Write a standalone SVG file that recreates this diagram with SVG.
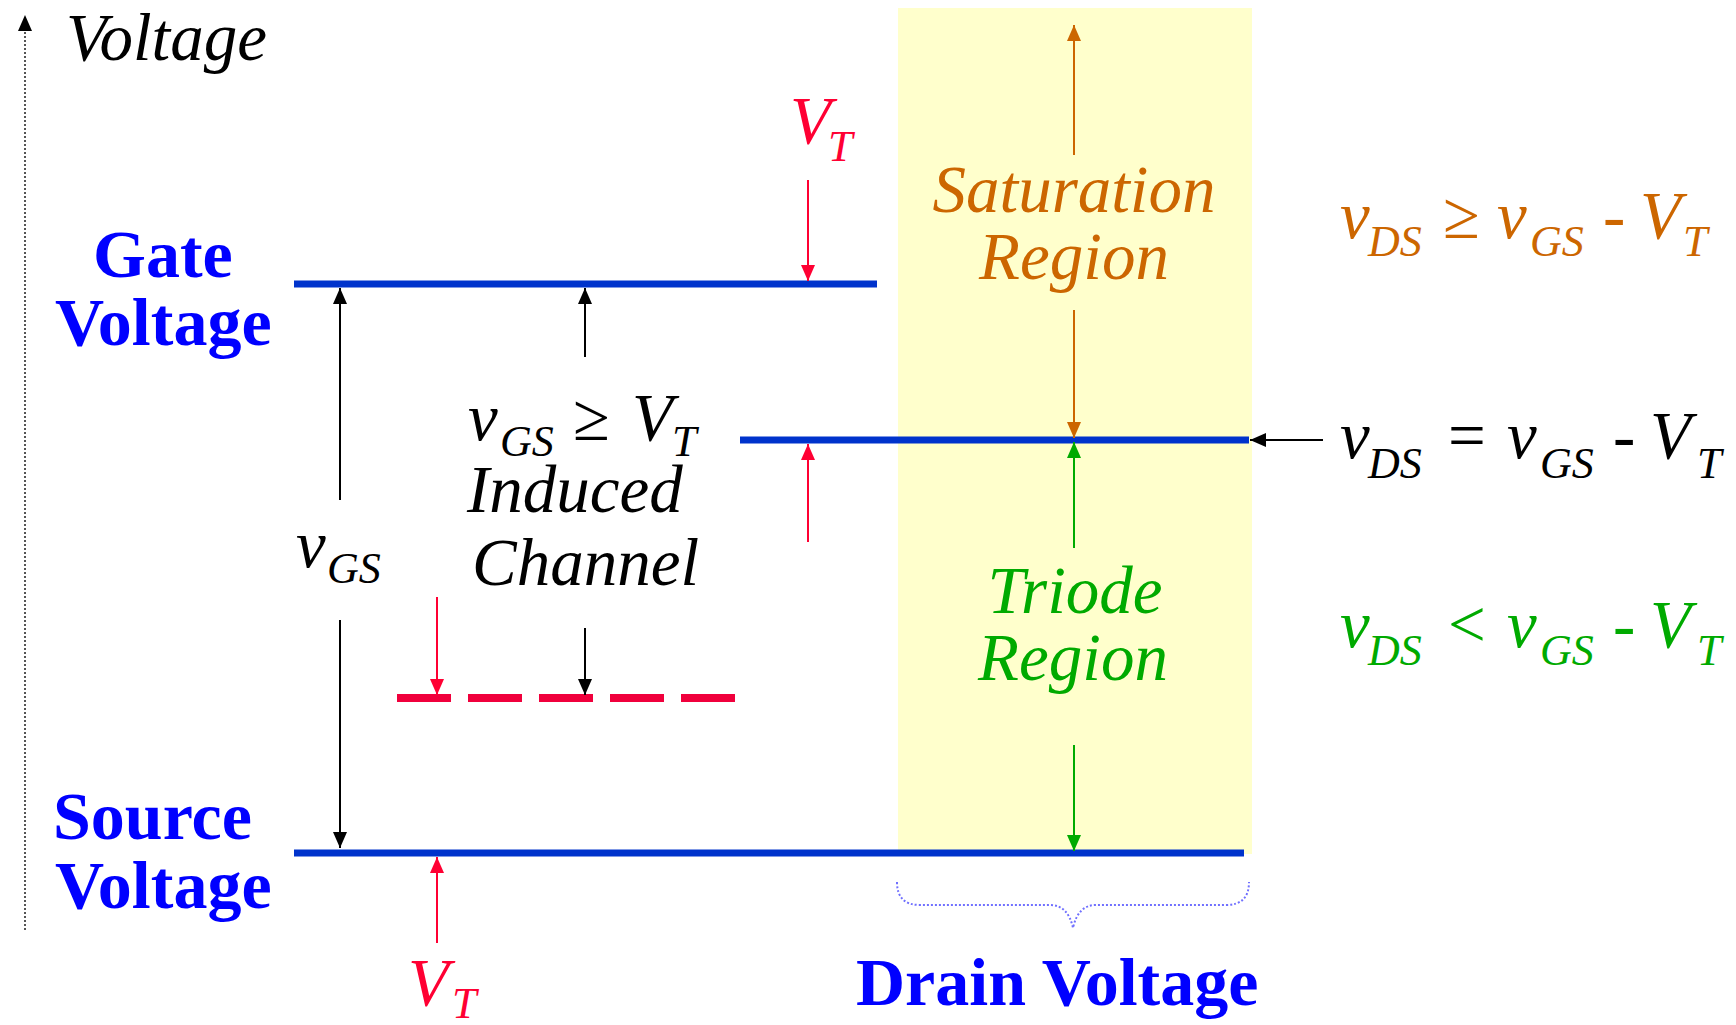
<svg xmlns="http://www.w3.org/2000/svg" width="1736" height="1025" viewBox="0 0 1736 1025">
<style>
.it{font-family:"Liberation Serif","Times New Roman",serif;font-style:italic;}
.up{font-family:"Liberation Serif","Times New Roman",serif;}
.bl{font-family:"Liberation Serif","Times New Roman",serif;font-weight:bold;fill:#0000FF;font-size:68px;}
.m{font-size:67px;}
.s{font-size:44px;}
.lvl{stroke:#0033CC;stroke-width:7;fill:none;}
.ar{stroke-width:2;fill:none;}
.k{stroke:#000;} .r{stroke:#FF0033;} .o{stroke:#CC6600;} .g{stroke:#00AA00;}
</style>
<defs>
<marker id="mk" viewBox="0 0 16 14" refX="16" refY="7" markerWidth="16" markerHeight="14" markerUnits="userSpaceOnUse" orient="auto"><path d="M0,0 L16,7 L0,14 z" fill="#000"/></marker>
<marker id="mr" viewBox="0 0 16 14" refX="16" refY="7" markerWidth="16" markerHeight="14" markerUnits="userSpaceOnUse" orient="auto"><path d="M0,0 L16,7 L0,14 z" fill="#FF0033"/></marker>
<marker id="mo" viewBox="0 0 16 14" refX="16" refY="7" markerWidth="16" markerHeight="14" markerUnits="userSpaceOnUse" orient="auto"><path d="M0,0 L16,7 L0,14 z" fill="#CC6600"/></marker>
<marker id="mg" viewBox="0 0 16 14" refX="16" refY="7" markerWidth="16" markerHeight="14" markerUnits="userSpaceOnUse" orient="auto"><path d="M0,0 L16,7 L0,14 z" fill="#00AA00"/></marker>
</defs>
<rect width="1736" height="1025" fill="#fff"/>
<g id="drain-region"><rect x="898" y="8" width="354" height="846" fill="#FFFFCC"/></g>
<g id="voltage-axis">
<line x1="25" y1="930" x2="25" y2="30" stroke="#555" stroke-width="2" stroke-dasharray="2 2"/>
<polygon points="25,15 18,31 32,31" fill="#000"/>
<text class="it m" x="66" y="60" fill="#000">Voltage</text>
</g>
<g id="gate-voltage">
<line class="lvl" x1="294" y1="284" x2="877" y2="284"/>
<text class="bl" x="93" y="277">Gate</text>
<text class="bl" x="55" y="345">Voltage</text>
</g>
<g id="source-voltage">
<line class="lvl" x1="294" y1="853" x2="1244" y2="853"/>
<text class="bl" x="53" y="839">Source</text>
<text class="bl" x="55" y="908">Voltage</text>
</g>
<g id="saturation-edge">
<line class="lvl" x1="740" y1="440" x2="1249" y2="440"/>
</g>
<g id="threshold-level">
<line x1="397" y1="698" x2="737" y2="698" stroke="#F0003C" stroke-width="8" stroke-dasharray="54 17"/>
</g>
<g id="connectors">
<line class="ar k" x1="340" y1="500" x2="340" y2="288" marker-end="url(#mk)"/>
<line class="ar k" x1="340" y1="620" x2="340" y2="848" marker-end="url(#mk)"/>
<line class="ar k" x1="585" y1="357" x2="585" y2="288" marker-end="url(#mk)"/>
<line class="ar k" x1="585" y1="628" x2="585" y2="695" marker-end="url(#mk)"/>
<line class="ar r" x1="437" y1="597" x2="437" y2="695" marker-end="url(#mr)"/>
<line class="ar r" x1="808" y1="180" x2="808" y2="281" marker-end="url(#mr)"/>
<line class="ar r" x1="808" y1="542" x2="808" y2="444" marker-end="url(#mr)"/>
<line class="ar r" x1="437" y1="943" x2="437" y2="857" marker-end="url(#mr)"/>
<line class="ar o" x1="1074" y1="155" x2="1074" y2="25" marker-end="url(#mo)"/>
<line class="ar o" x1="1074" y1="310" x2="1074" y2="438" marker-end="url(#mo)"/>
<line class="ar g" x1="1074" y1="548" x2="1074" y2="442" marker-end="url(#mg)"/>
<line class="ar g" x1="1074" y1="745" x2="1074" y2="851" marker-end="url(#mg)"/>
<line class="ar k" x1="1323" y1="440" x2="1250" y2="440" marker-end="url(#mk)"/>
<path d="M897,882 Q897,905 920,905 L1050,905 Q1068,905 1073,928 Q1078,905 1096,905 L1226,905 Q1249,905 1249,882" fill="none" stroke="#7070FF" stroke-width="2" stroke-dasharray="2 2"/>
</g>
<g id="vt-top" fill="#FF0033">
<text class="it m" x="790" y="143">V</text><text class="it s" x="828" y="161">T</text>
</g>
<g id="vt-bottom" fill="#FF0033">
<text class="it m" x="408" y="1005">V</text><text class="it s" x="452" y="1018">T</text>
</g>
<g id="vgs-label" fill="#000">
<text class="it m" x="296" y="567">v</text><text class="it s" x="327" y="583">GS</text>
</g>
<g id="induced-channel" fill="#000">
<text class="it m" x="468" y="440">v</text><text class="it s" x="500" y="456">GS</text>
<text class="up m" x="573" y="440">≥</text>
<text class="it m" x="632" y="440">V</text><text class="it s" x="672" y="456">T</text>
<text class="it m" x="467" y="512">Induced</text>
<text class="it m" x="472" y="585">Channel</text>
</g>
<g id="saturation-region" fill="#CC6600">
<text class="it m" x="1074" y="212" text-anchor="middle">Saturation</text>
<text class="it m" x="1074" y="279" text-anchor="middle">Region</text>
</g>
<g id="triode-region" fill="#00AA00">
<text class="it m" x="1075" y="613" text-anchor="middle">Triode</text>
<text class="it m" x="1073" y="680" text-anchor="middle">Region</text>
</g>
<g id="cond-sat" fill="#CC6600">
<text class="it m" x="1340" y="238">v</text><text class="it s" x="1368" y="256">DS</text>
<text class="up m" x="1443" y="238">≥</text>
<text class="it m" x="1497" y="238">v</text><text class="it s" x="1530" y="256">GS</text>
<text class="up m" x="1603" y="238">-</text>
<text class="it m" x="1640" y="238">V</text><text class="it s" x="1683" y="256">T</text>
</g>
<g id="cond-edge" fill="#000">
<text class="it m" x="1340" y="458">v</text><text class="it s" x="1368" y="478">DS</text>
<text class="up m" x="1448" y="458">=</text>
<text class="it m" x="1507" y="458">v</text><text class="it s" x="1540" y="478">GS</text>
<text class="up m" x="1613" y="458">-</text>
<text class="it m" x="1650" y="458">V</text><text class="it s" x="1697" y="478">T</text>
</g>
<g id="cond-triode" fill="#00AA00">
<text class="it m" x="1340" y="647">v</text><text class="it s" x="1368" y="665">DS</text>
<text class="up m" x="1448" y="647">&lt;</text>
<text class="it m" x="1507" y="647">v</text><text class="it s" x="1540" y="665">GS</text>
<text class="up m" x="1613" y="647">-</text>
<text class="it m" x="1650" y="647">V</text><text class="it s" x="1697" y="665">T</text>
</g>
<g id="drain-voltage">
<text class="bl" x="856" y="1005">Drain Voltage</text>
</g>
</svg>
